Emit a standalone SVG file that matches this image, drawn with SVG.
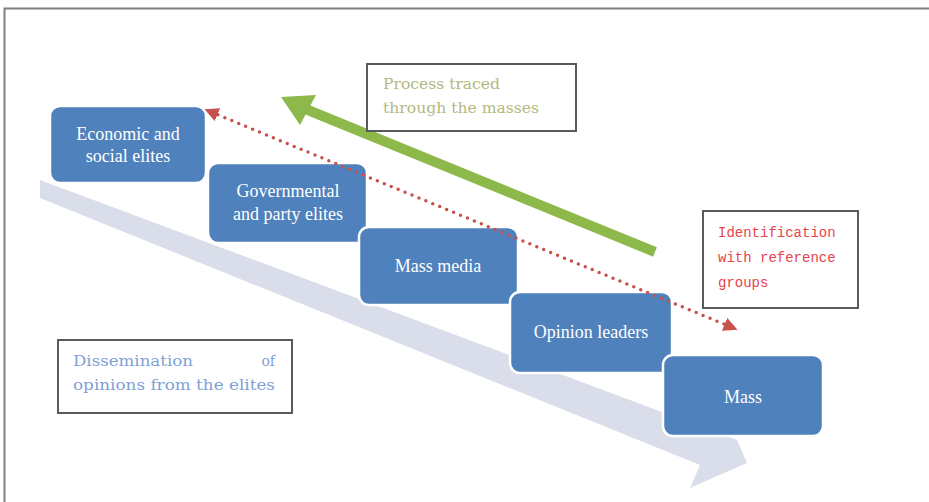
<svg xmlns="http://www.w3.org/2000/svg" width="929" height="502" viewBox="0 0 929 502">
<style>
.node rect{fill:#4f81bd;stroke:#ffffff;stroke-width:2.5}
.node text{fill:#ffffff;font-family:"Liberation Serif",serif;font-size:18px;text-anchor:middle}
.note rect{fill:#ffffff;stroke:#5a5a5a;stroke-width:2}
.serif{font-family:"DejaVu Serif",serif;font-size:14px}
.mono{font-family:"Liberation Mono",monospace;font-size:14px;fill:#e8434b}
.olive{fill:#b4b880}
.blue{fill:#7f9fd6}
</style>
<defs>
<marker id="redHead" viewBox="0 0 10 10" refX="5" refY="5" markerWidth="4" markerHeight="4" orient="auto-start-reverse" markerUnits="strokeWidth">
<path d="M0,0 L10,5 L0,10 z" fill="#c8504d"/>
</marker>
</defs>
<rect x="4.5" y="8.5" width="930" height="500" fill="#ffffff" stroke="#7f7f7f" stroke-width="2"/>
<polygon id="flow-arrow" points="40,180 737,440 747,463 690,488 700,465 40,198" fill="#d9deea"/>
<g id="n-economic" class="node"><rect x="50" y="106" width="156" height="77" rx="10"/><text x="128" y="140">Economic and</text><text x="128" y="162">social elites</text></g>
<g id="n-governmental" class="node"><rect x="208" y="163" width="159" height="80" rx="10"/><text x="288" y="197">Governmental</text><text x="288" y="220">and party elites</text></g>
<g id="n-massmedia" class="node"><rect x="359" y="227" width="159" height="78" rx="10"/><text x="438" y="272">Mass media</text></g>
<g id="n-opinion" class="node"><rect x="510" y="292" width="162" height="81" rx="10"/><text x="591" y="338">Opinion leaders</text></g>
<g id="n-mass" class="node"><rect x="663" y="355" width="160" height="81" rx="10"/><text x="743" y="403">Mass</text></g>
<g id="connectors">
<line x1="211" y1="112" x2="731" y2="327" stroke="#c8504d" stroke-width="3.5" stroke-linecap="round" stroke-dasharray="0 7.5" marker-start="url(#redHead)" marker-end="url(#redHead)"/>
<line x1="655" y1="252" x2="303" y2="108" stroke="#8db84a" stroke-width="10"/>
<polygon points="281,97 316,95 300,125" fill="#8db84a"/>
</g>
<g id="note-process" class="note"><rect x="367" y="64" width="209" height="67"/><text class="serif olive" x="383" y="89" textLength="117" lengthAdjust="spacingAndGlyphs">Process traced</text><text class="serif olive" x="383" y="113" textLength="156" lengthAdjust="spacingAndGlyphs">through the masses</text></g>
<g id="note-identification" class="note"><rect x="703" y="211" width="155" height="97"/><text class="mono" x="718" y="237">Identification</text><text class="mono" x="718" y="262">with reference</text><text class="mono" x="718" y="287">groups</text></g>
<g id="note-dissemination" class="note"><rect x="58" y="340" width="234" height="73"/><text class="serif blue" x="73" y="366" textLength="120" lengthAdjust="spacingAndGlyphs">Dissemination</text><text class="serif blue" x="275" y="366" text-anchor="end">of</text><text class="serif blue" x="73" y="390" textLength="202" lengthAdjust="spacingAndGlyphs">opinions from the elites</text></g>
</svg>
